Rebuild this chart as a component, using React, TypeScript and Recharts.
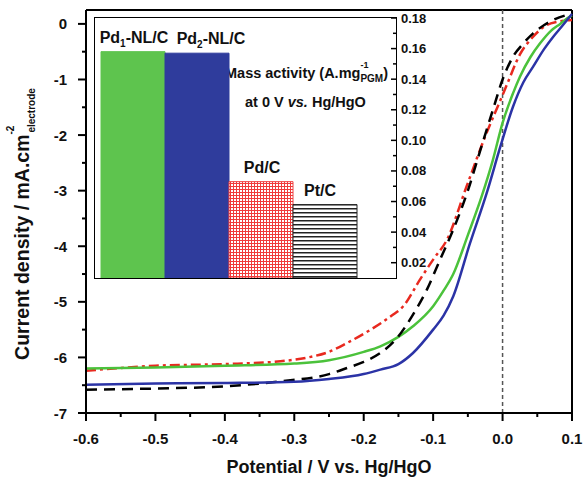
import React from 'react';
import { LineChart, Line, XAxis, YAxis, ReferenceLine, Label, BarChart, Bar, Cell, LabelList } from 'recharts';

const FONT = '"Liberation Sans", Arial, sans-serif';

// LSV curves, potential (V vs Hg/HgO) vs current density (mA/cm2)
const pd1Potential = [-0.6, -0.5, -0.4, -0.3, -0.25, -0.2, -0.176, -0.15, -0.129, -0.1, -0.085, -0.071, -0.05, -0.03, -0.014, 0, 0.015, 0.025, 0.04, 0.054, 0.07, 0.083, 0.097, 0.1];
const pd1Current = [-6.2, -6.18, -6.15, -6.11, -6.05, -5.9, -5.8, -5.63, -5.44, -5.08, -4.8, -4.5, -3.8, -3.1, -2.45, -1.78, -1.25, -0.95, -0.6, -0.35, -0.12, 0.0, 0.13, 0.15];

const pd2Potential = [-0.6, -0.5, -0.4, -0.3, -0.25, -0.2, -0.176, -0.15, -0.129, -0.1, -0.085, -0.071, -0.047, -0.023, -0.003, 0.015, 0.03, 0.044, 0.06, 0.073, 0.085, 0.1];
const pd2Current = [-6.49, -6.47, -6.46, -6.44, -6.39, -6.3, -6.22, -6.12, -5.92, -5.5, -5.25, -4.9, -3.95, -3.05, -2.2, -1.49, -1.05, -0.77, -0.45, -0.23, -0.05, 0.18];

const pdcPotential = [-0.6, -0.5, -0.4, -0.32, -0.28, -0.25, -0.224, -0.19, -0.16, -0.143, -0.119, -0.1, -0.08, -0.052, -0.023, -0.003, 0.006, 0.025, 0.044, 0.064, 0.08, 0.1];
const pdcCurrent = [-6.24, -6.15, -6.12, -6.07, -6.0, -5.9, -5.74, -5.5, -5.25, -5.08, -4.6, -4.24, -3.88, -2.93, -1.96, -1.37, -1.1, -0.55, -0.23, -0.02, 0.04, 0.07];

const ptcPotential = [-0.6, -0.5, -0.4, -0.32, -0.25, -0.224, -0.2, -0.176, -0.152, -0.129, -0.109, -0.09, -0.071, -0.05, -0.032, -0.014, 0, 0.015, 0.03, 0.044, 0.06, 0.073, 0.09, 0.1];
const ptcCurrent = [-6.58, -6.56, -6.52, -6.43, -6.3, -6.19, -6.08, -5.92, -5.65, -5.23, -4.78, -4.24, -3.7, -3.0, -2.27, -1.55, -1.0, -0.59, -0.35, -0.17, -0.02, 0.07, 0.15, 0.18];

const xMajor = [-0.6, -0.5, -0.4, -0.3, -0.2, -0.1, 0.0, 0.1];
const xMinor = [-0.55, -0.45, -0.35, -0.25, -0.15, -0.05, 0.05];
const yMajor = [-7, -6, -5, -4, -3, -2, -1, 0];
const yMinor = [-6.5, -5.5, -4.5, -3.5, -2.5, -1.5, -0.5];

// inset: mass activity at 0 V
const catalysts = ['Pd1-NL/C', 'Pd2-NL/C', 'Pd/C', 'Pt/C'];
const catalystLabels = [['Pd', '1', '-NL/C'], ['Pd', '2', '-NL/C'], ['Pd/C'], ['Pt/C']];
const massActivity = [0.158, 0.157, 0.073, 0.058];
const maMajor = [0.02, 0.04, 0.06, 0.08, 0.1, 0.12, 0.14, 0.16, 0.18];
const maMinor = [0.03, 0.05, 0.07, 0.09, 0.11, 0.13, 0.15, 0.17];

const barFills = ['#5ec44e', '#2f3c9c', 'url(#redGrid)', 'url(#hLines)'];
const barStrokes = ['#5ec44e', '#2f3c9c', '#f04040', '#222'];
const labelShift = [1, 14, 1, -5];

const toPoints = (xs: number[], ys: number[]) => xs.map((x, i) => ({ x, y: ys[i] }));
const isIn = (arr: number[], v: number) => arr.some((a) => Math.abs(a - v) < 1e-9);

const XTick = (props: any) => {
  const { x, y, payload } = props;
  const major = isIn(xMajor, payload.value);
  return (
    <g>
      <line x1={x} x2={x} y1={y} y2={y + (major ? 8 : 4)} stroke="#000" strokeWidth={2} />
      {major && (
        <text x={x} y={y + 31} textAnchor="middle" fontSize={15} fontWeight="bold" fontFamily={FONT} fill="#111">
          {payload.value.toFixed(1)}
        </text>
      )}
    </g>
  );
};

const YTick = (props: any) => {
  const { x, y, payload } = props;
  const major = isIn(yMajor, payload.value);
  return (
    <g>
      <line x1={x - (major ? 8 : 4)} x2={x} y1={y} y2={y} stroke="#000" strokeWidth={2} />
      {major && (
        <text x={x - 19} y={y + 5.5} textAnchor="end" fontSize={15} fontWeight="bold" fontFamily={FONT} fill="#111">
          {payload.value}
        </text>
      )}
    </g>
  );
};

const MaTick = (props: any) => {
  const { x, y, payload } = props;
  const major = isIn(maMajor, payload.value);
  return (
    <g>
      <line x1={x - (major ? 5 : 3)} x2={x} y1={y} y2={y} stroke="#000" strokeWidth={1.5} />
      {major && (
        <text x={x + 5} y={y + 4.5} textAnchor="start" fontSize={13} fontWeight="bold" fontFamily={FONT} fill="#111">
          {payload.value.toFixed(2)}
        </text>
      )}
    </g>
  );
};

const BarName = (props: any) => {
  const { x, y, width, index } = props;
  const parts = catalystLabels[index];
  return (
    <text x={x + width / 2 + labelShift[index]} y={y - 9} textAnchor="middle" fontSize={16} fontWeight="bold" fontFamily={FONT} fill="#111">
      {parts[0]}
      {parts.length > 1 && (
        <>
          <tspan fontSize={10} dy={4}>{parts[1]}</tspan>
          <tspan dy={-4}>{parts[2]}</tspan>
        </>
      )}
    </text>
  );
};

const YTitle = () => (
  <text transform="rotate(-90, 29, 224)" x={29} y={224} textAnchor="middle" fontSize={19.5} fontWeight="bold" fontFamily={FONT} fill="#111">
    Current density / mA.cm
    <tspan fontSize={10} dy={-15}>-2</tspan>
    <tspan fontSize={10} dx={-7} dy={21}>electrode</tspan>
  </text>
);

const XTitle = () => (
  <text x={329} y={473} textAnchor="middle" fontSize={18} fontWeight="bold" fontFamily={FONT} fill="#111">
    Potential / V vs. Hg/HgO
  </text>
);

export default function App() {
  const barData = catalysts.map((name, i) => ({ name, value: massActivity[i] }));
  return (
    <div style={{ position: 'absolute', left: 0, top: 0, width: 584, height: 478, background: '#fff' }}>
      <LineChart width={584} height={478} margin={{ top: 10, right: 12, bottom: 0, left: 0 }}>
        <XAxis
          type="number"
          dataKey="x"
          domain={[-0.6, 0.1]}
          ticks={[...xMajor, ...xMinor].sort((a, b) => a - b)}
          interval={0}
          height={65}
          tickLine={false}
          tickSize={0}
          tickMargin={0}
          axisLine={{ stroke: '#000', strokeWidth: 2 }}
          tick={<XTick />}
        >
          <Label content={<XTitle />} />
        </XAxis>
        <YAxis
          type="number"
          domain={[-7, 0.25]}
          ticks={[...yMajor, ...yMinor].sort((a, b) => a - b)}
          interval={0}
          width={86}
          tickLine={false}
          tickSize={0}
          tickMargin={0}
          axisLine={{ stroke: '#000', strokeWidth: 2 }}
          tick={<YTick />}
        >
          <Label content={<YTitle />} />
        </YAxis>
        <ReferenceLine y={0.25} stroke="#000" strokeWidth={2} />
        <ReferenceLine x={0.1} stroke="#000" strokeWidth={2} />
        <ReferenceLine x={0} stroke="#555" strokeWidth={1.5} strokeDasharray="4 3" />
        <Line data={toPoints(pdcPotential, pdcCurrent)} dataKey="y" type="monotone" stroke="#e8291f" strokeWidth={2.5} strokeDasharray="10 4 3 4" dot={false} isAnimationActive={false} />
        <Line data={toPoints(pd1Potential, pd1Current)} dataKey="y" type="monotone" stroke="#4bc23b" strokeWidth={2.5} dot={false} isAnimationActive={false} />
        <Line data={toPoints(ptcPotential, ptcCurrent)} dataKey="y" type="monotone" stroke="#000" strokeWidth={2.5} strokeDasharray="11 7" dot={false} isAnimationActive={false} />
        <Line data={toPoints(pd2Potential, pd2Current)} dataKey="y" type="monotone" stroke="#2b33a6" strokeWidth={2.5} dot={false} isAnimationActive={false} />
      </LineChart>

      <div style={{ position: 'absolute', left: 95, top: 18, width: 301, height: 260, background: '#fff', outline: '1.5px solid #000' }} />

      <div style={{ position: 'absolute', left: 95, top: 0 }}>
        <BarChart width={360} height={290} data={barData} margin={{ top: 18, right: 0, bottom: 12, left: 0 }} barCategoryGap={0} barGap={0}>
          <defs>
            <pattern id="redGrid" width={3} height={3} patternUnits="userSpaceOnUse">
              <rect width={3} height={3} fill="#fff" />
              <path d="M0 0.5 H3 M0.5 0 V3" stroke="#f03a3a" strokeWidth={1} />
            </pattern>
            <pattern id="hLines" width={4} height={4} patternUnits="userSpaceOnUse">
              <rect width={4} height={4} fill="#fff" />
              <path d="M0 0.75 H4" stroke="#222" strokeWidth={1.5} />
            </pattern>
          </defs>
          <XAxis dataKey="name" type="category" hide padding={{ left: 6, right: 39 }} />
          <YAxis
            orientation="right"
            type="number"
            domain={[0.01, 0.18]}
            allowDataOverflow
            ticks={[...maMajor, ...maMinor].sort((a, b) => a - b)}
            interval={0}
            width={59}
            axisLine={false}
            tickLine={false}
            tickSize={0}
            tickMargin={0}
            tick={<MaTick />}
          />
          <Bar dataKey="value" isAnimationActive={false}>
            {barData.map((_, i) => (
              <Cell key={`c-${i}`} fill={barFills[i]} stroke={barStrokes[i]} strokeWidth={1} />
            ))}
            <LabelList dataKey="value" content={<BarName />} />
          </Bar>
          <text x={130} y={78} fontSize={14.5} fontWeight="bold" fontFamily={FONT} fill="#111">
            Mass activity (A.mg
            <tspan fontSize={9} dy={-10}>-1</tspan>
            <tspan fontSize={10} dx={-8} dy={14}>PGM</tspan>
            <tspan dy={-4}>)</tspan>
          </text>
          <text x={150} y={107} fontSize={14.5} fontWeight="bold" fontFamily={FONT} fill="#111">
            at 0 V <tspan fontStyle="italic">vs.</tspan> Hg/HgO
          </text>
        </BarChart>
      </div>
    </div>
  );
}
